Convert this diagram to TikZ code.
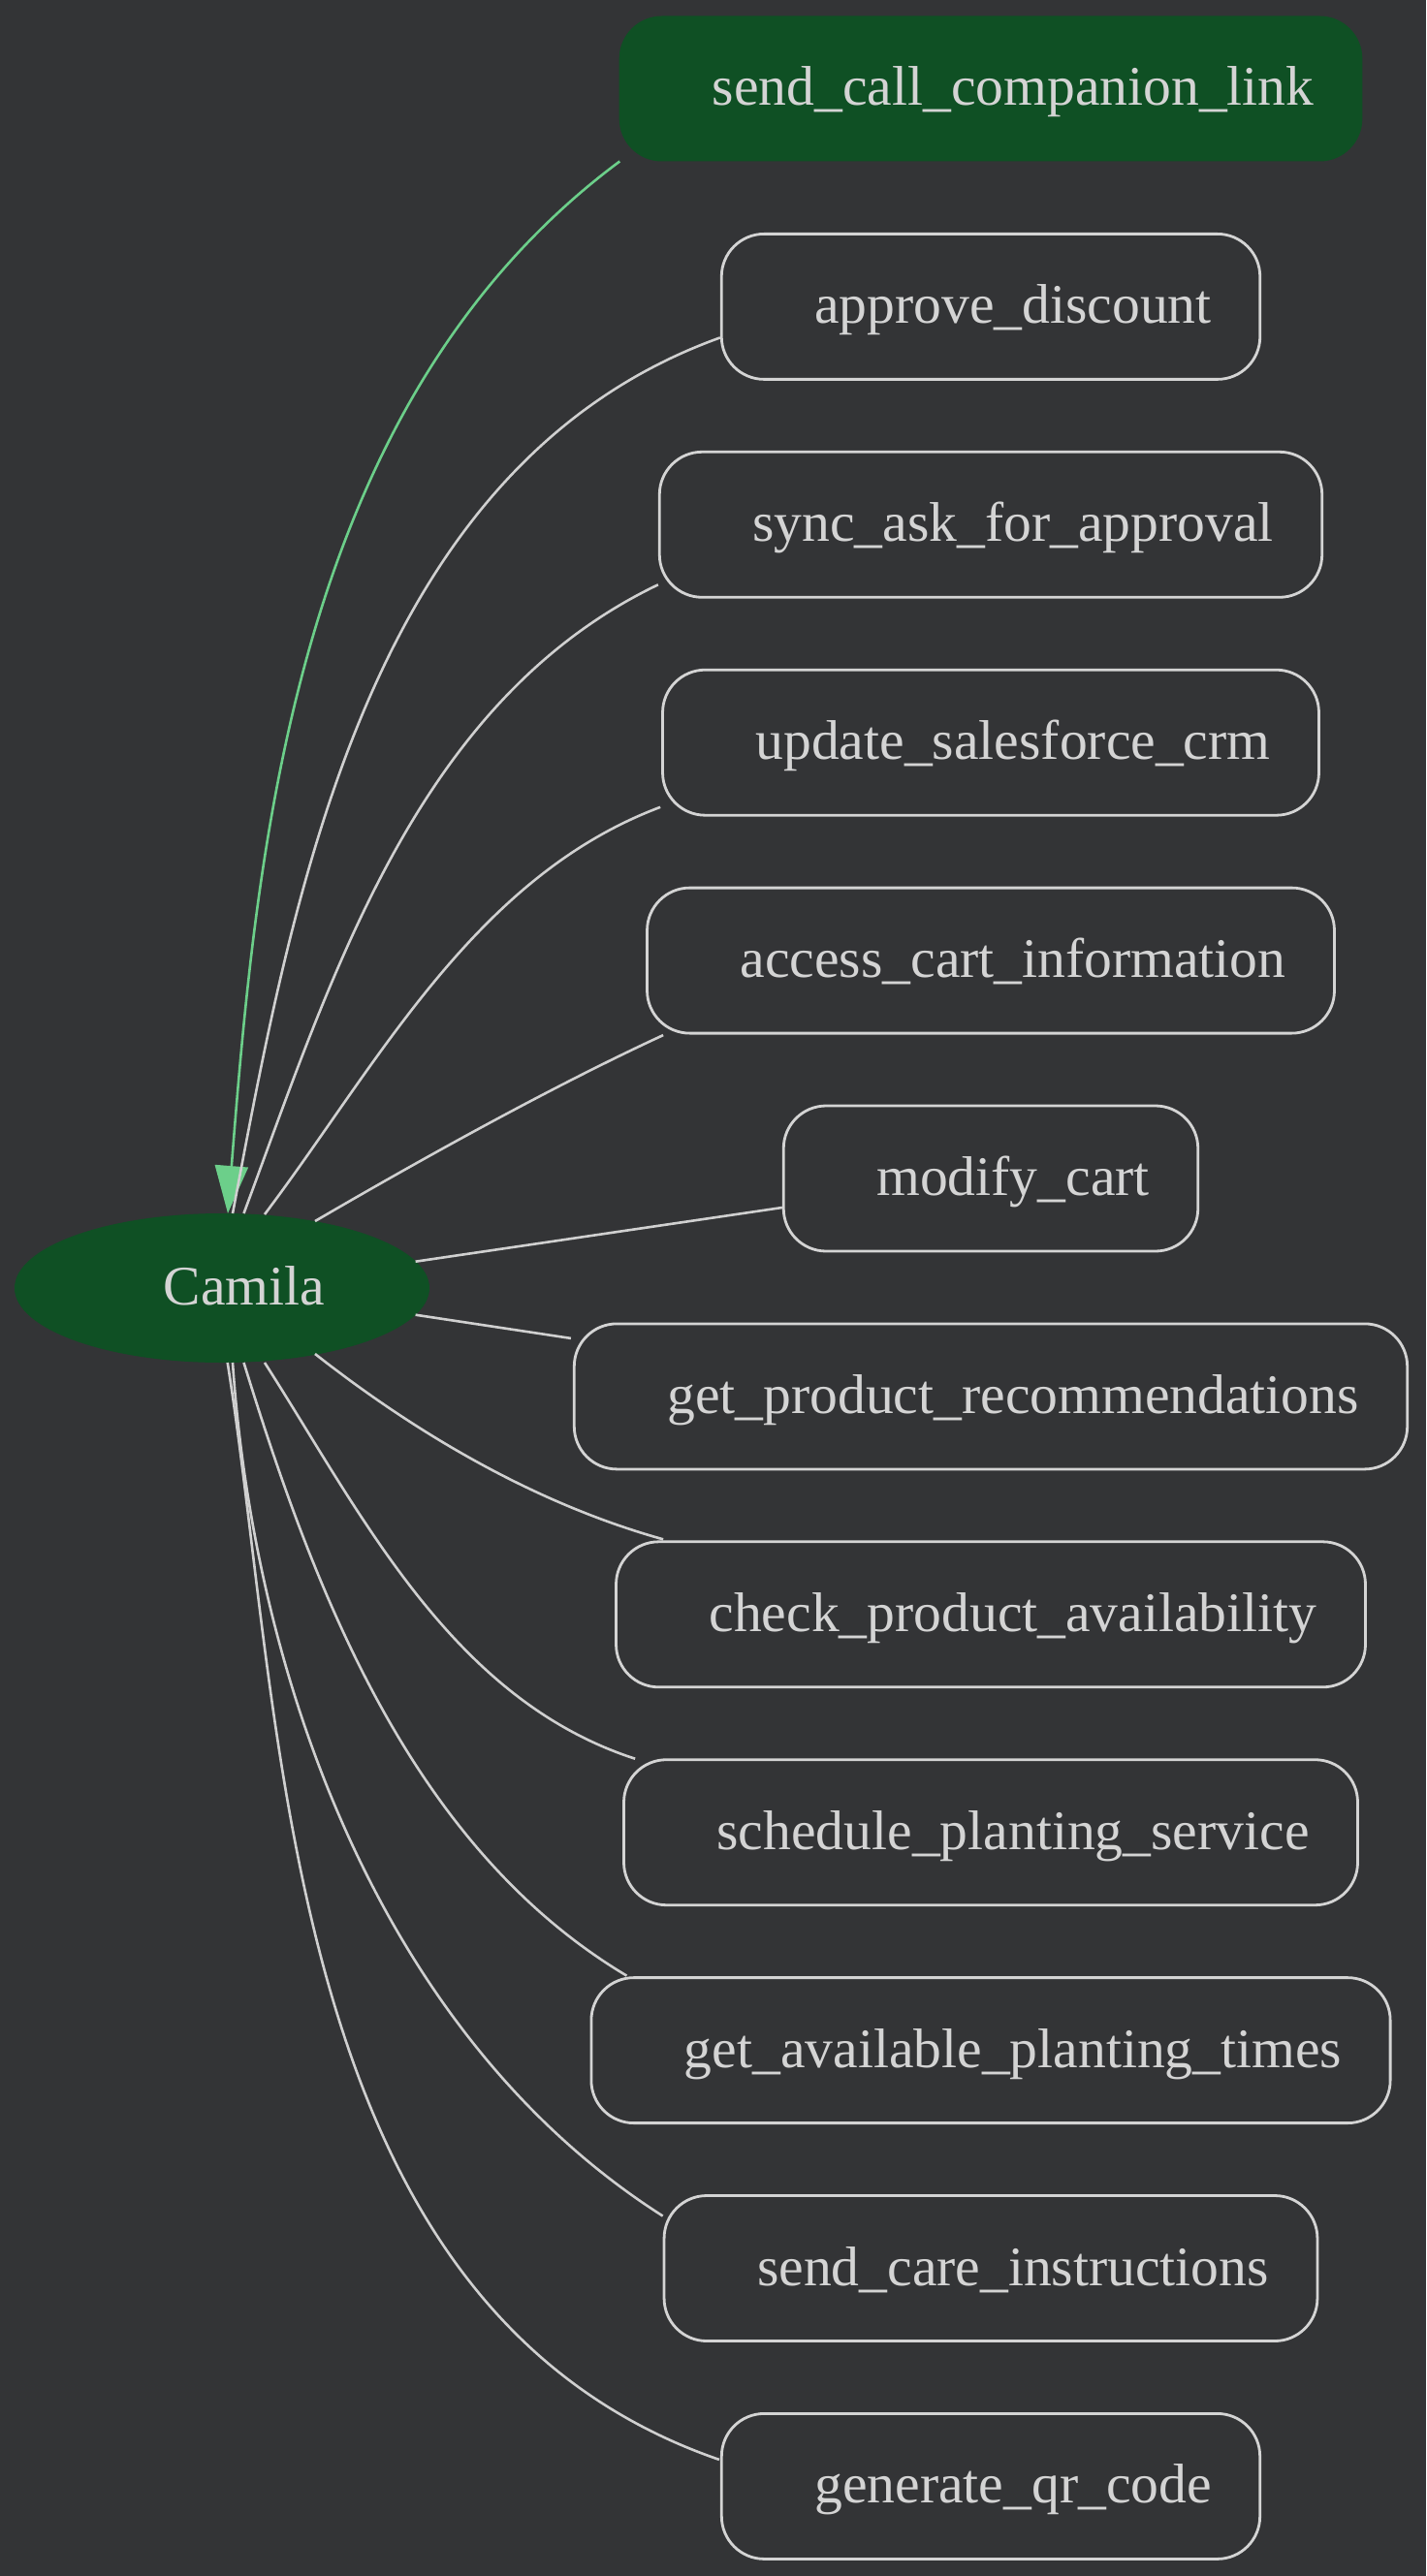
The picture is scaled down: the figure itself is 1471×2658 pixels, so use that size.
\documentclass[tikz,border=0pt]{standalone}
\usepackage{fontspec}
\setmainfont{Liberation Serif}
\usetikzlibrary{calc,arrows.meta,shapes.geometric}
\definecolor{bg}{HTML}{333436}
\definecolor{nodegreen}{HTML}{0F5024}
\definecolor{fg}{HTML}{D4D4D4}
\definecolor{edgegray}{HTML}{D0D0D0}
\definecolor{edgegreen}{HTML}{6CCF8A}
\begin{document}
\begin{tikzpicture}[x=0.5pt,y=-0.5pt,
  labelfont/.style={font=\fontsize{28.8pt}{34pt}\selectfont, text=fg, text height=21pt, text depth=3.5pt},
  toolbox/.style={labelfont, draw=fg, line width=1.4pt, rounded corners=22pt, minimum height=75pt, inner xsep=25pt, inner ysep=0pt, fill=bg},
  activebox/.style={toolbox, draw=none, fill=nodegreen},
  agent/.style={labelfont, ellipse, fill=nodegreen, minimum width=214pt, minimum height=77pt, inner sep=0pt},
  link/.style={draw=edgegray, line width=1.3pt},
  activelink/.style={draw=edgegreen, line width=1.3pt, -{Triangle[length=24.5pt,width=17pt,fill=edgegreen]}},
]
\fill[bg] (0,0) rectangle (1471,2658);
\useasboundingbox (0,0) rectangle (1471,2658);

\node[agent] (ag) at (229,1329) {\hspace{23pt}Camila};

\node[activebox] (n1) at (1022,91.5) {\hspace{23pt}send\_call\_companion\_link};
\node[toolbox] (n2) at (1022,316.4) {\hspace{23pt}approve\_discount};
\node[toolbox] (n3) at (1022,541.3) {\hspace{23pt}sync\_ask\_for\_approval};
\node[toolbox] (n4) at (1022,766.2) {\hspace{23pt}update\_salesforce\_crm};
\node[toolbox] (n5) at (1022,991.1) {\hspace{23pt}access\_cart\_information};
\node[toolbox] (n6) at (1022,1216.0) {\hspace{23pt}modify\_cart};
\node[toolbox] (n7) at (1022,1440.9) {\hspace{23pt}get\_product\_recommendations};
\node[toolbox] (n8) at (1022,1665.8) {\hspace{23pt}check\_product\_availability};
\node[toolbox] (n9) at (1022,1890.7) {\hspace{23pt}schedule\_planting\_service};
\node[toolbox] (n10) at (1022,2115.6) {\hspace{23pt}get\_available\_planting\_times};
\node[toolbox] (n11) at (1022,2340.5) {\hspace{23pt}send\_care\_instructions};
\node[toolbox] (n12) at (1022,2565.4) {\hspace{23pt}generate\_qr\_code};

\draw[activelink] ($(n1.west)+(2,75)$) .. controls (305,415) and (265,872) .. ($(ag.center)+(6,-77)$);
\draw[link] ($(ag.center)+(11,-77)$) .. controls (303,920) and (380,479) .. ($(n2.west)+(0,32)$);
\draw[link] ($(ag.center)+(22.5,-77)$) .. controls (341.5,1010) and (429,723) .. ($(n3.west)+(0,62)$);
\draw[link] ($(ag.center)+(44,-76)$) .. controls (389,1099) and (489,905) .. ($(n4.west)+(-1,66.6)$);
\draw[link] ($(ag.center)+(96,-69)$) .. controls (445,1190) and (576,1118) .. ($(n5.west)+(18,77)$);
\draw[link] ($(ag.center)+(199.6,-27.3)$) -- ($(n6.west)+(0,30)$);
\draw[link] ($(ag.center)+(199.6,27.7)$) -- ($(n7.west)+(-2,-60)$);
\draw[link] ($(ag.center)+(96,68)$) .. controls (432,1481) and (554,1552) .. ($(n8.west)+(50,-77.5)$);
\draw[link] ($(ag.center)+(44,77)$) .. controls (373,1562) and (465,1753) .. ($(n9.west)+(13,-76)$);
\draw[link] ($(ag.center)+(22.5,77)$) .. controls (324,1641) and (424,1906) .. ($(n10.west)+(38,-77)$);
\draw[link] ($(ag.center)+(11,77)$) .. controls (263,1739) and (397,2104) .. ($(n11.west)+(0,-54)$);
\draw[link] ($(ag.center)+(5.7,77)$) .. controls (295,1785) and (289,2382) .. ($(n12.west)+(-1,-27.5)$);
\end{tikzpicture}
\end{document}
